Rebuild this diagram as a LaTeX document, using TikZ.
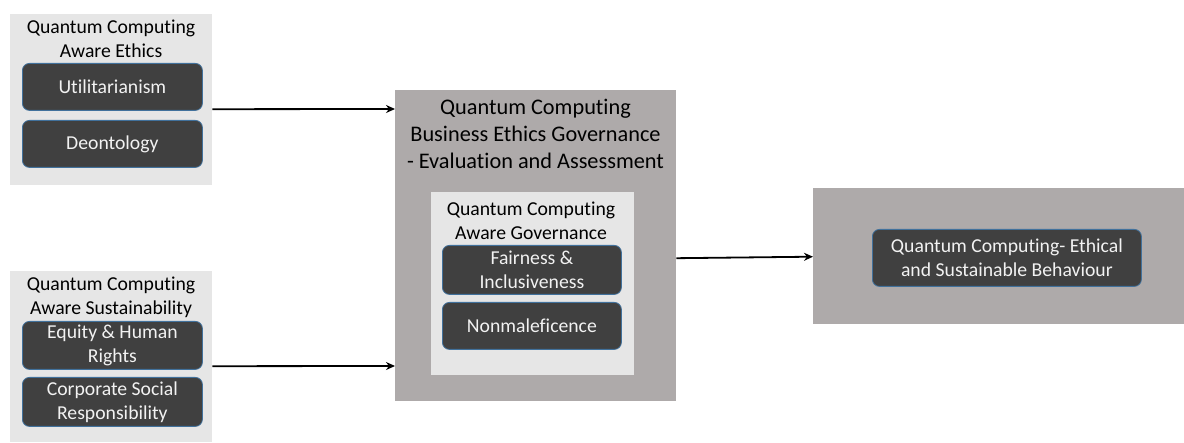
\documentclass[tikz,border=0pt]{standalone}
\usepackage{fontspec}
\setmainfont{Carlito}[Ligatures=NoCommon]
\usetikzlibrary{arrows.meta}

\definecolor{panel}{HTML}{E6E6E6}
\definecolor{stage}{HTML}{AEAAAA}
\definecolor{chip}{HTML}{404040}
\definecolor{chipline}{HTML}{41719C}
\definecolor{chiptext}{HTML}{F2F2F2}

\begin{document}
\begin{tikzpicture}[x=1pt,y=-1pt,>={Stealth[length=9pt,width=8pt]},
    panel box/.style={fill=panel,draw=none,anchor=north west,inner sep=0pt},
    stage box/.style={fill=stage,draw=none,anchor=north west,inner sep=0pt},
    chip box/.style={fill=chip,draw=chipline,line width=0.8pt,rounded corners=7pt,anchor=north west,
        minimum width=180pt,minimum height=47pt,inner sep=0pt,align=center,text=chiptext,
        font=\fontsize{19.7}{24}\selectfont},
    title/.style={align=center,inner sep=0pt,text=black,font=\fontsize{19.7}{24}\selectfont},
    big title/.style={align=center,inner sep=0pt,text=black,font=\fontsize{22.3}{27}\selectfont},
    flow/.style={->,line width=1.8pt}]
    \useasboundingbox (0,0) rectangle (1184,443);

    % left side
    \node[panel box, minimum width=202pt, minimum height=171pt] (ethics) at (10,14) {};
    \node[title] (ethicstitle) at (111,39) {Quantum Computing\\Aware Ethics};
    \node[chip box] (util) at (22,63) {Utilitarianism};
    \node[chip box] (deon) at (22,120) {Deontology};

    \node[panel box, minimum width=202pt, minimum height=171pt] (sustain) at (10,271) {};
    \node[title] (sustaintitle) at (111,297) {Quantum Computing\\Aware Sustainability};
    \node[chip box, minimum height=48pt] (equity) at (22,321) {Equity \& Human\\Rights};
    \node[chip box, minimum height=49pt] (csr) at (22,377) {Corporate Social\\Responsibility};

    % middle
    \node[stage box, minimum width=281pt, minimum height=311pt] (review) at (395,90) {};
    \node[big title] (reviewtitle) at (535.5,134) {Quantum Computing\\Business Ethics Governance\\- Evaluation and Assessment};
    \node[panel box, minimum width=203pt, minimum height=183pt] (govern) at (431,192) {};
    \node[title] (governtitle) at (531,221) {Quantum Computing\\Aware Governance};
    \node[chip box, minimum width=179pt, minimum height=49pt] (fair) at (442,245) {Fairness \&\\Inclusiveness};
    \node[chip box, minimum width=179pt] (nonmal) at (442,302) {Nonmaleficence};

    % right
    \node[stage box, minimum width=371pt, minimum height=136pt] (outcome) at (813,188) {};
    \node[chip box, minimum width=269pt, minimum height=57pt] (behave) at (872,229) {Quantum Computing- Ethical\\and Sustainable Behaviour};

    % arrows
    \draw[flow] ([yshift=-9.5pt]ethics.east) -- (review.west |- 0,109);
    \draw[flow] ([yshift=-9.5pt]sustain.east) -- (review.west |- 0,366);
    \draw[flow] ([yshift=-12.5pt]review.east) -- ([yshift=-0.5pt]outcome.west);
\end{tikzpicture}
\end{document}
